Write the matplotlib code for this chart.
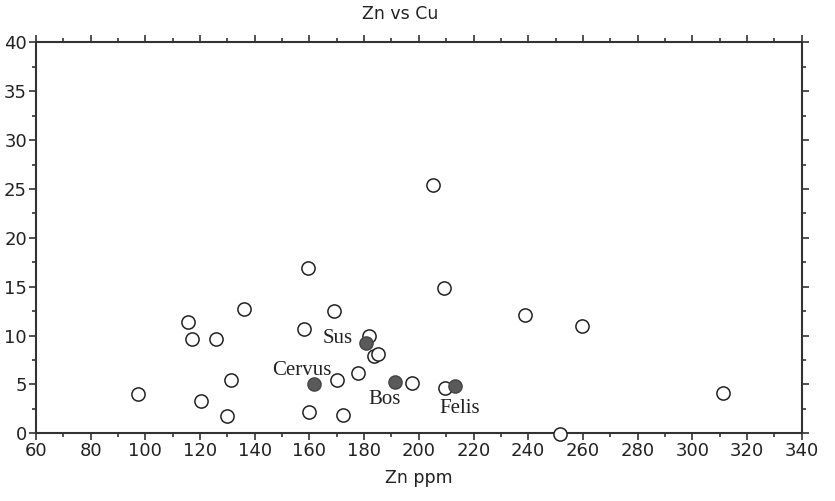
import matplotlib.pyplot as plt
from matplotlib.ticker import MultipleLocator

# open circles: other samples
zn_open = [97.3, 120.3, 129.8, 131.4, 115.6, 117.1, 125.8, 136.1, 157.9, 169.1,
           159.6, 181.9, 183.5, 185.1, 177.8, 170.1, 160.0, 172.4, 197.5, 205.1,
           209.3, 209.7, 239.0, 259.5, 251.8, 311.4]
cu_open = [4.0, 3.3, 1.8, 5.5, 11.4, 9.6, 9.6, 12.7, 10.7, 12.5,
           16.9, 10.0, 7.9, 8.15, 6.2, 5.5, 2.15, 1.85, 5.1, 25.4,
           14.9, 4.6, 12.1, 11.0, -0.05, 4.15]

# filled circles: reference animals
ref_names = ['Sus', 'Cervus', 'Bos', 'Felis']
zn_ref = [180.8, 161.5, 191.2, 213.3]
cu_ref = [9.25, 5.05, 5.3, 4.8]
label_x = [170.5, 157.3, 187.4, 214.9]
label_y = [9.7, 6.45, 3.45, 2.5]

fig = plt.figure(figsize=(8.35, 5.01), dpi=100)
ax = fig.add_axes([0.0431, 0.1351, 0.9170, 0.7804])

ax.plot(zn_open, cu_open, 'o', ms=9.5, mfc='white', mec='#222222', mew=1.1,
        linestyle='none', clip_on=False, zorder=3)
ax.plot(zn_ref, cu_ref, 'o', ms=9.5, mfc='#5a5a5a', mec='#444444', mew=1.0,
        linestyle='none', zorder=4)

for name, lx, ly in zip(ref_names, label_x, label_y):
    ax.text(lx, ly, name, family='Liberation Serif', fontsize=15,
            ha='center', va='center', color='#222222', zorder=5)

ax.set_xlim(60, 340)
ax.set_ylim(0, 40)
ax.xaxis.set_major_locator(MultipleLocator(20))
ax.xaxis.set_minor_locator(MultipleLocator(10))
ax.yaxis.set_major_locator(MultipleLocator(5))
ax.yaxis.set_minor_locator(MultipleLocator(2.5))

ax.tick_params(which='both', direction='out', top=True, right=True,
               labeltop=False, labelright=False, colors='#333333',
               labelcolor='#222222', labelsize=13, width=1.2)
ax.tick_params(which='major', length=5, pad=1.5)
ax.tick_params(which='minor', length=3)
for sp in ax.spines.values():
    sp.set_linewidth(1.5)
    sp.set_color('#333333')

ax.set_xlabel('Zn ppm', fontsize=12.5, color='#222222', labelpad=6)
fig.text(400 / 835, 1 - 14 / 501, 'Zn vs Cu', fontsize=12.5, color='#222222',
         ha='center', va='center')

fig.savefig('out.png', dpi=100, facecolor='white')
